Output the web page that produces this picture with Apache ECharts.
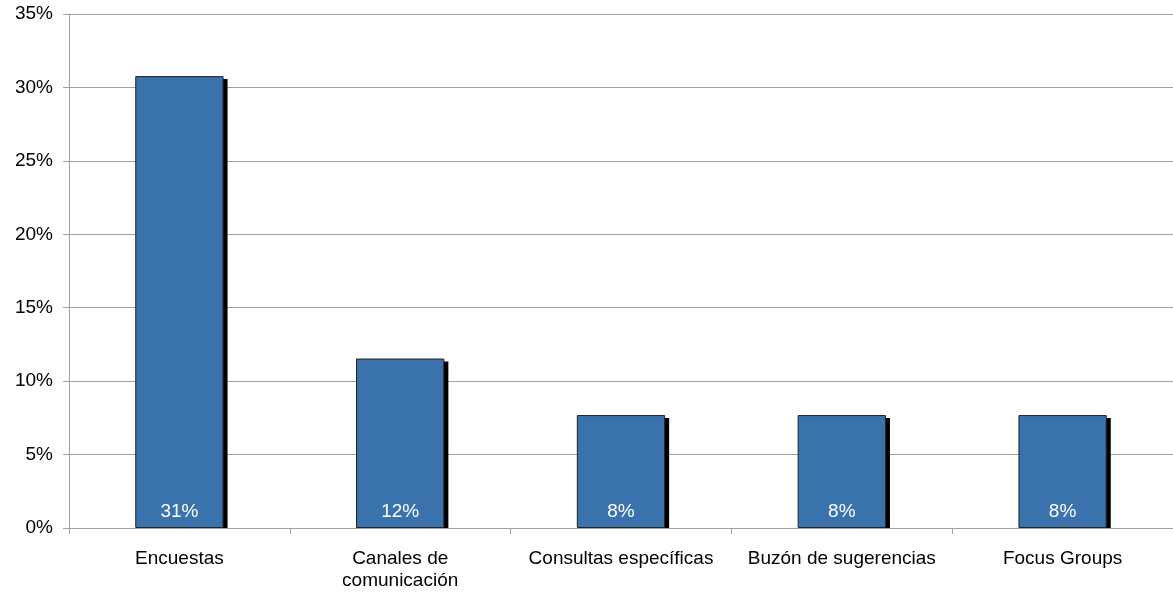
<!DOCTYPE html>
<html><head><meta charset="utf-8">
<script src="https://cdn.jsdelivr.net/npm/echarts@6/dist/echarts.min.js"></script>
<style>html,body{margin:0;padding:0;background:#fff}#c{width:1173px;height:595px}</style>
</head><body><div id="c"></div>
<script>
const categories = ['Encuestas', 'Canales de\ncomunicación', 'Consultas específicas', 'Buzón de sugerencias', 'Focus Groups'];
const values = [30.77, 11.54, 7.69, 7.69, 7.69];
const yTicks = [0, 5, 10, 15, 20, 25, 30, 35];

const FONT = 'Liberation Sans, Arial, sans-serif';
const FS = 19;
const BAR_RATIO = 0.4;

const chart = echarts.init(document.getElementById('c'), null, {renderer: 'canvas'});
chart.setOption({
  animation: false,
  grid: {left: 69, right: 0, top: 14, bottom: 67, containLabel: false},
  xAxis: {
    type: 'category', data: categories,
    axisLine: {lineStyle: {color: '#a0a0a0', width: 1}},
    axisTick: {show: true, length: 6, lineStyle: {color: '#a0a0a0'}},
    axisLabel: {color: '#000', fontFamily: FONT, fontSize: FS, margin: 20, lineHeight: 22, interval: 0}
  },
  yAxis: {
    type: 'value', min: yTicks[0], max: yTicks[yTicks.length - 1], interval: 5,
    axisLine: {show: true, lineStyle: {color: '#a0a0a0', width: 1}},
    axisTick: {show: true, length: 6, lineStyle: {color: '#a0a0a0'}},
    splitLine: {lineStyle: {color: '#a0a0a0', width: 1}},
    axisLabel: {color: '#000', fontFamily: FONT, fontSize: FS, margin: 16, verticalAlign: 'middle', padding: [3, 0, 0, 0], formatter: v => v + '%'}
  },
  series: [{
    type: 'custom', z: 1, silent: true,
    data: values.map((v, i) => [i, v]),
    renderItem: function (params, api) {
      const top = api.coord([api.value(0), api.value(1)]);
      const base = api.coord([api.value(0), 0]);
      const band = api.size([1, 0])[0];
      const w = band * BAR_RATIO;
      return {
        type: 'rect',
        shape: {x: top[0] - w / 2 + 4, y: top[1] + 3, width: w, height: base[1] - top[1] - 3},
        style: {fill: '#000'}
      };
    }
  }, {
    type: 'bar', data: values, barWidth: (BAR_RATIO * 100) + '%', z: 2,
    itemStyle: {color: '#3a72ad', borderColor: '#222', borderWidth: 1},
    label: {show: true, position: 'insideBottom', distance: 7, color: '#fff',
      fontFamily: FONT, fontSize: FS,
      formatter: p => Math.round(p.value) + '%'}
  }]
});
</script></body></html>
